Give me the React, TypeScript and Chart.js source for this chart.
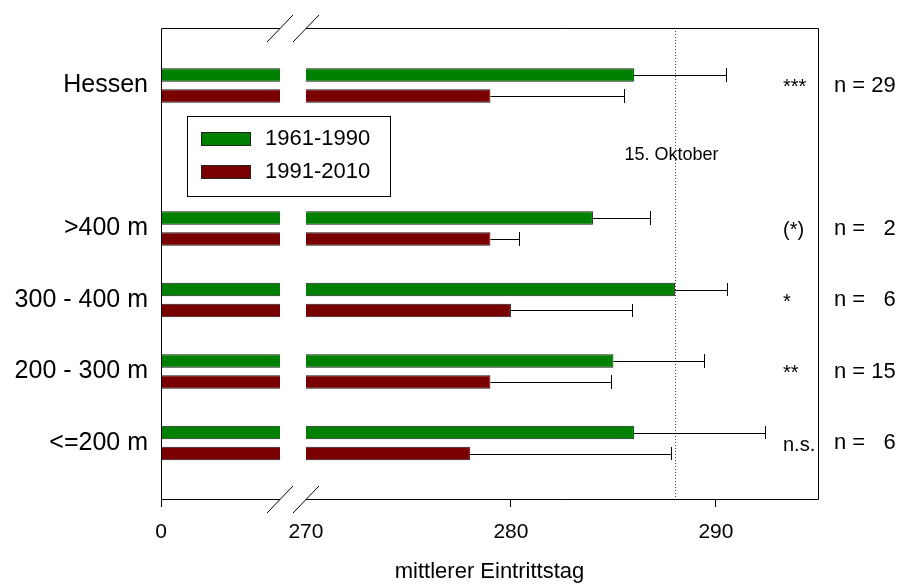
import React, { useEffect, useRef } from 'react';
import { Chart, registerables } from 'chart.js';

Chart.register(...registerables);

const FONT = "'Liberation Sans', Arial, Helvetica, sans-serif";

// ---- data ----
const rowLabels = ['Hessen', '>400 m', '300 - 400 m', '200 - 300 m', '<=200 m'];
const rowPositions = [0, 2, 3, 4, 5];
const seriesLabels = ['1961-1990', '1991-2010'];
const seriesColors = ['#008000', '#780000'];
const mean1961 = [286.0, 284.0, 288.0, 285.0, 286.0];
const sd1961 = [4.5, 2.8, 2.55, 4.4, 6.4];
const mean1991 = [279.0, 279.0, 280.0, 279.0, 278.0];
const sd1991 = [6.5, 1.4, 5.9, 5.9, 9.8];
const significance = ['***', '(*)', '*', '**', 'n.s.'];
const sampleSizes = ['n = 29', 'n =   2', 'n =   6', 'n = 15', 'n =   6'];
const xTickValues = [270, 280, 290];
const xZeroLabel = '0';
const referenceDay = 288;
const referenceLabel = '15. Oktober';
const xAxisTitle = 'mittlerer Eintrittstag';

// ---- axis ranges (broken axis: left part stands for 0) ----
const X_MIN = 262.93;
const X_MAX = 294.98;
const BREAK_FROM = 268.73;
const BREAK_TO = 270;
const Y_MIN = -0.804;
const Y_MAX = 5.797;

const overlayPlugin = {
  id: 'overlay',
  afterDatasetsDraw(chart: any) {
    const { ctx, chartArea: ca } = chart;
    const xs = chart.scales.x;
    const ys = chart.scales.y;
    ctx.save();

    // white gap for the axis break
    const gl = Math.round(xs.getPixelForValue(BREAK_FROM));
    const gr = Math.round(xs.getPixelForValue(BREAK_TO));
    ctx.fillStyle = '#ffffff';
    ctx.fillRect(gl, ca.top - 1, gr - gl, ca.bottom - ca.top + 2);

    // reference dotted line
    const rx = Math.round(xs.getPixelForValue(referenceDay)) + 0.5;
    ctx.strokeStyle = '#444';
    ctx.lineWidth = 1;
    ctx.setLineDash([1, 2]);
    ctx.beginPath();
    ctx.moveTo(rx, ca.top);
    ctx.lineTo(rx, ca.bottom);
    ctx.stroke();
    ctx.setLineDash([]);

    // error bars
    chart.data.datasets.forEach((ds: any, di: number) => {
      const meta = chart.getDatasetMeta(di);
      meta.data.forEach((el: any, i: number) => {
        const v = ds.data[i].x;
        const e = ds.errors[i];
        const x0 = el.x;
        const x1 = Math.round(xs.getPixelForValue(v + e)) + 0.5;
        const yc = Math.round(el.y) + 0.5;
        const h = el.height / 2;
        ctx.strokeStyle = '#000';
        ctx.lineWidth = 1;
        ctx.beginPath();
        ctx.moveTo(x0, yc);
        ctx.lineTo(x1, yc);
        ctx.moveTo(x1, Math.round(el.y - h));
        ctx.lineTo(x1, Math.round(el.y + h));
        ctx.stroke();
      });
    });

    // frame with breaks
    const L = ca.left + 0.5;
    const R = ca.right + 0.5;
    const T = ca.top + 0.5;
    const B = ca.bottom - 0.5;
    ctx.strokeStyle = '#000';
    ctx.lineWidth = 1;
    ctx.beginPath();
    ctx.moveTo(gl, T); ctx.lineTo(L, T); ctx.lineTo(L, B); ctx.lineTo(gl, B);
    ctx.moveTo(gr, T); ctx.lineTo(R, T); ctx.lineTo(R, B); ctx.lineTo(gr, B);
    ctx.stroke();
    // break slashes
    ctx.beginPath();
    [T, B].forEach((yy) => {
      [gl, gr].forEach((xx) => {
        ctx.moveTo(xx - 13, yy + 13.5);
        ctx.lineTo(xx + 13, yy - 13.5);
      });
    });
    ctx.stroke();

    // reference label
    ctx.fillStyle = '#000';
    ctx.font = `18px ${FONT}`;
    ctx.textAlign = 'center';
    ctx.textBaseline = 'middle';
    ctx.fillText(referenceLabel, rx - 4, ys.getPixelForValue(1) - 2);

    // significance and sample sizes
    ctx.textAlign = 'left';
    rowPositions.forEach((p, i) => {
      const yy = ys.getPixelForValue(p);
      ctx.font = `20px ${FONT}`;
      ctx.fillText(significance[i], ca.right - 35, yy + 2);
      ctx.font = `22px ${FONT}`;
      ctx.fillText(sampleSizes[i], ca.right + 16, yy);
    });

    // legend
    const lx = ca.left + 26;
    const ly = ca.top + 88;
    ctx.fillStyle = '#fff';
    ctx.fillRect(lx, ly, 203, 80);
    ctx.strokeStyle = '#000';
    ctx.strokeRect(lx + 0.5, ly + 0.5, 203, 80);
    chart.data.datasets.forEach((ds: any, di: number) => {
      const sy = ly + 16 + di * 33;
      ctx.fillStyle = ds.backgroundColor;
      ctx.fillRect(lx + 14, sy, 50, 14);
      ctx.strokeStyle = '#222';
      ctx.strokeRect(lx + 14.5, sy + 0.5, 49, 13);
      ctx.fillStyle = '#000';
      ctx.font = `22px ${FONT}`;
      ctx.textAlign = 'left';
      ctx.textBaseline = 'middle';
      ctx.fillText(ds.label, lx + 78, sy + 7);
    });

    ctx.restore();
  },
};

export default function App() {
  const ref = useRef<HTMLCanvasElement | null>(null);

  useEffect(() => {
    if (!ref.current) return;
    const chart = new Chart(ref.current, {
      type: 'bar',
      data: {
        datasets: [
          {
            label: seriesLabels[0],
            data: rowPositions.map((p, i) => ({ x: mean1961[i], y: p })),
            errors: sd1961,
            backgroundColor: seriesColors[0],
            borderColor: '#1a1a1a',
            borderWidth: 1,
            borderSkipped: false,
          } as any,
          {
            label: seriesLabels[1],
            data: rowPositions.map((p, i) => ({ x: mean1991[i], y: p })),
            errors: sd1991,
            backgroundColor: seriesColors[1],
            borderColor: '#1a1a1a',
            borderWidth: 1,
            borderSkipped: false,
          } as any,
        ],
      },
      options: {
        indexAxis: 'y',
        responsive: false,
        animation: false,
        categoryPercentage: 0.587,
        barPercentage: 0.64,
        layout: { padding: { top: 28, right: 82, left: 0, bottom: 0 } },
        plugins: { legend: { display: false }, tooltip: { enabled: false } },
        scales: {
          y: {
            type: 'linear',
            reverse: true,
            offset: false,
            min: Y_MIN,
            max: Y_MAX,
            afterBuildTicks: (scale: any) => {
              scale.ticks = rowPositions.map((v) => ({ value: v }));
            },
            afterFit: (scale: any) => {
              scale.width = 161;
            },
            grid: { display: false, drawTicks: false, offset: false },
            border: { display: false },
            ticks: {
              padding: 13,
              color: '#000',
              font: { family: FONT, size: 25 },
              callback: (v: any) => {
                const i = rowPositions.indexOf(Number(v));
                return i >= 0 ? rowLabels[i] : '';
              },
            },
          },
          x: {
            type: 'linear',
            min: X_MIN,
            max: X_MAX,
            afterBuildTicks: (scale: any) => {
              scale.ticks = [{ value: X_MIN }, ...xTickValues.map((v) => ({ value: v }))];
            },
            afterFit: (scale: any) => {
              scale.height = 84;
            },
            grid: {
              display: true,
              drawOnChartArea: false,
              drawTicks: true,
              tickLength: 7,
              color: (c: any) => (c.tick && c.tick.value === BREAK_TO ? 'rgba(0,0,0,0)' : '#000'),
            },
            border: { display: false },
            ticks: {
              padding: 13,
              color: '#000',
              maxRotation: 0,
              autoSkip: false,
              font: { family: FONT, size: 21 },
              callback: (v: any, i: number) => (i === 0 ? xZeroLabel : String(v)),
            },
            title: {
              display: true,
              text: xAxisTitle,
              color: '#000',
              padding: { top: 0, bottom: 0 },
              font: { family: FONT, size: 22, lineHeight: 1.1 },
            },
          },
        },
      } as any,
      plugins: [overlayPlugin],
    });
    return () => chart.destroy();
  }, []);

  return (
    <div style={{ position: 'fixed', left: 0, top: 0, width: 900, height: 584, background: '#fff' }}>
      <canvas ref={ref} width={900} height={584} style={{ display: 'block' }} />
    </div>
  );
}
